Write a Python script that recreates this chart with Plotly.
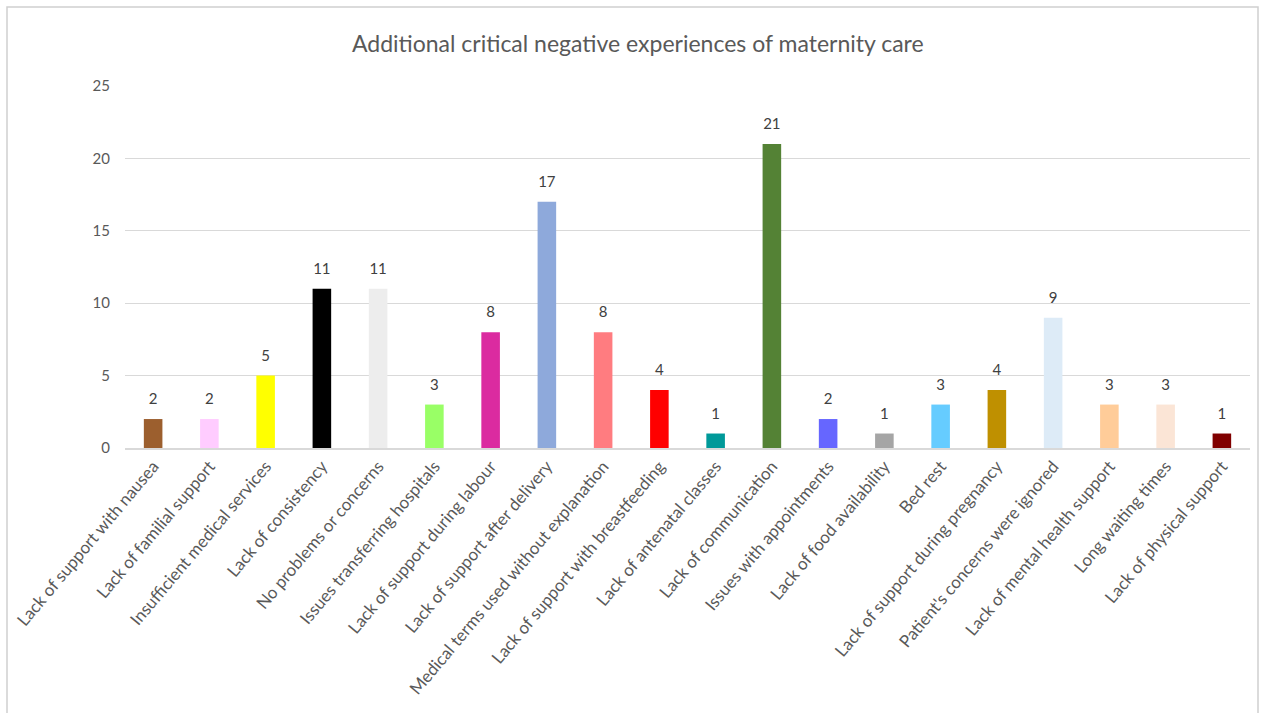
import plotly.graph_objects as go

categories = [
    "Lack of support with nausea", "Lack of familial support", "Insufficient medical services",
    "Lack of consistency", "No problems or concerns", "Issues transferring hospitals",
    "Lack of support during labour", "Lack of support after delivery",
    "Medical terms used without explanation", "Lack of support with breastfeeding",
    "Lack of antenatal classes", "Lack of communication", "Issues with appointments",
    "Lack of food availability", "Bed rest", "Lack of support during pregnancy",
    "Patient's concerns were ignored", "Lack of mental health support",
    "Long waiting times", "Lack of physical support",
]
values = [2, 2, 5, 11, 11, 3, 8, 17, 8, 4, 1, 21, 2, 1, 3, 4, 9, 3, 3, 1]
colors = [
    "#9C5F2E", "#FFCCFF", "#FFFF00", "#000000", "#EDEDED", "#99FF66", "#DB2BA0",
    "#8EA9DB", "#FF7C80", "#FF0000", "#009999", "#548235", "#6666FF", "#A5A5A5",
    "#66CCFF", "#BF9000", "#DDEBF7", "#FFCC99", "#FBE5D6", "#800000",
]
y_ticks = [0, 5, 10, 15, 20, 25]

font_family = "Lato, 'Open Sans', sans-serif"

fig = go.Figure()
fig.add_trace(go.Bar(
    x=categories, y=values, marker=dict(color=colors, line=dict(width=0)),
    width=0.33, cliponaxis=False, hoverinfo="x+y",
))
fig.add_trace(go.Scatter(
    x=categories, y=values, mode="markers+text", text=[str(v) for v in values],
    textposition="top center", marker=dict(size=16, opacity=0),
    textfont=dict(size=15, color="#404040", family=font_family),
    cliponaxis=False, hoverinfo="skip",
))

fig.update_layout(
    width=1263, height=713,
    margin=dict(l=125, r=13, t=86, b=265),
    paper_bgcolor="white", plot_bgcolor="white",
    showlegend=False,
    title=dict(text="Additional critical negative experiences of maternity care",
               x=0.505, xanchor="center", y=0.938, yanchor="middle",
               font=dict(size=23, color="#595959", family=font_family)),
    font=dict(family=font_family, color="#595959"),
    xaxis=dict(tickangle=-50, tickfont=dict(size=17, color="#595959"),
               range=[-0.5, len(categories) - 0.5], autorange=False,
               showgrid=False, showline=True, linecolor="#D9D9D9", linewidth=1.5,
               ticks="", automargin=False),
    yaxis=dict(range=[0, 25], tickvals=y_ticks, showgrid=True, gridcolor="#D9D9D9",
               gridwidth=1, zeroline=False, showline=False,
               tickfont=dict(size=15, color="#595959"), ticklabelstandoff=14,
               automargin=False),
    shapes=[dict(type="rect", xref="paper", yref="paper",
                 x0=(7 - 125) / 1125, x1=(1258 - 125) / 1125,
                 y0=-1.0, y1=(448 - 7) / 362,
                 line=dict(color="#D0D0D0", width=1.5), fillcolor="rgba(0,0,0,0)",
                 layer="below")],
)

fig.write_html("out.html")
